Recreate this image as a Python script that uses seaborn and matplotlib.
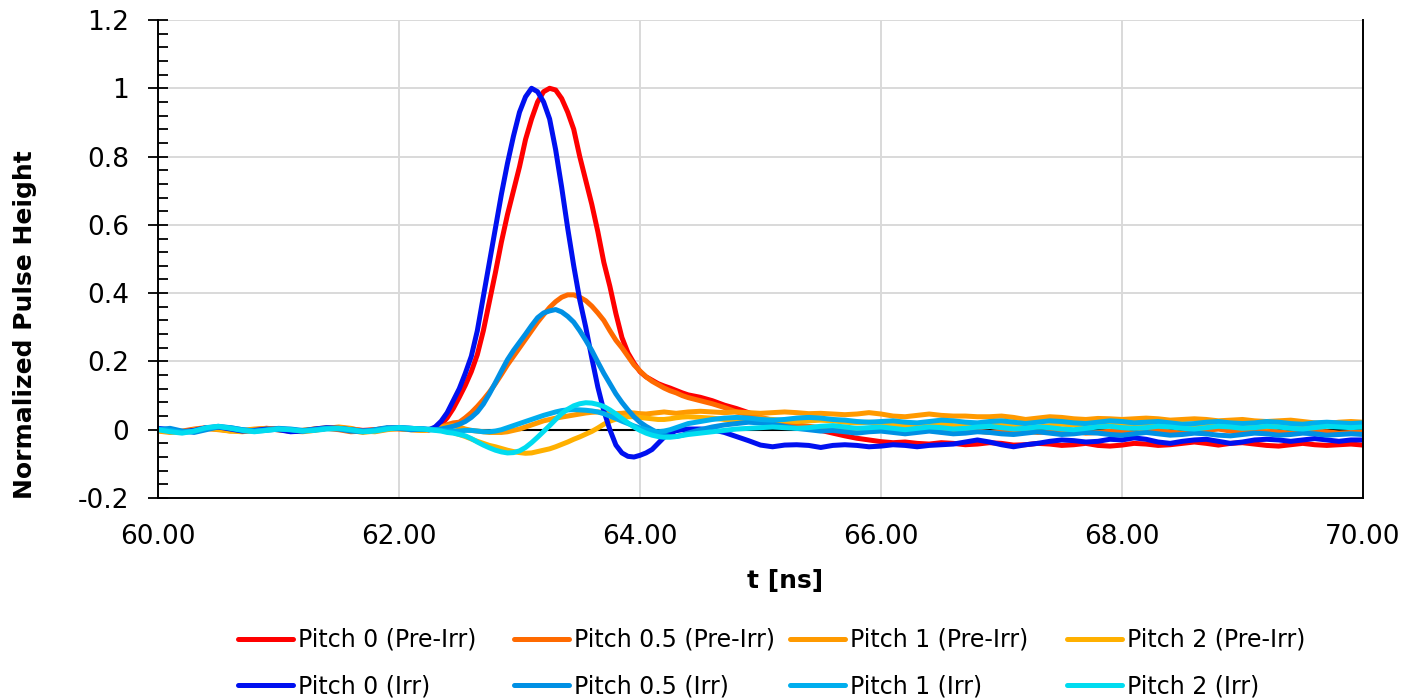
import numpy as np
import pandas as pd
import matplotlib
matplotlib.use("Agg")
import matplotlib.pyplot as plt
from matplotlib.lines import Line2D
from matplotlib.ticker import MultipleLocator, FuncFormatter
import seaborn as sns

# Sampling grid of the scope traces [ns]: coarse baseline, fine pulse window, coarse tail
t_ns = np.round(np.concatenate([
    np.arange(60.0, 62.2001, 0.1),
    np.arange(62.25, 64.4001, 0.05),
    np.arange(64.5, 70.0001, 0.1),
]), 2)

pitch0_pre = [
    0.0, -0.004, -0.006, -0.002, 0.004, 0.002, -0.002, -0.004, 0.0, 0.004, 0.002, -0.002,
    -0.004, 0.0, 0.004, 0.006, 0.002, -0.002, 0.0, 0.004, 0.006, 0.002, 0.0,
    0.0, 0.005, 0.015, 0.035, 0.062, 0.095, 0.13, 0.17, 0.22, 0.29, 0.375, 0.46,
    0.55, 0.63, 0.70, 0.77, 0.85, 0.91, 0.96, 0.99, 1.0, 0.995, 0.97, 0.93,
    0.88, 0.80, 0.73, 0.66, 0.58, 0.49, 0.42, 0.34, 0.27, 0.225, 0.195, 0.17,
    0.155, 0.145, 0.135, 0.128, 0.122, 0.115, 0.108, 0.102,
    0.095, 0.085, 0.072, 0.062, 0.05, 0.032, 0.025, 0.015, 0.01, 0.005, -0.002,
    -0.01, -0.018, -0.025, -0.03, -0.035, -0.038, -0.036, -0.04, -0.042, -0.038,
    -0.04, -0.044, -0.042, -0.038, -0.04, -0.045, -0.044, -0.04, -0.042, -0.046,
    -0.044, -0.04, -0.046, -0.048, -0.045, -0.04, -0.042, -0.046, -0.044, -0.04,
    -0.036, -0.04, -0.045, -0.04, -0.038, -0.042, -0.046, -0.048, -0.044, -0.04,
    -0.044, -0.046, -0.044, -0.042, -0.045,
]

pitch05_pre = [
    -0.002, -0.006, -0.004, 0.002, 0.006, 0.004, 0.0, -0.004, -0.002, 0.002, 0.0, -0.004,
    -0.002, 0.002, 0.004, 0.0, -0.006, -0.004, 0.0, 0.004, 0.002, 0.0, -0.002,
    0.0, 0.002, 0.008, 0.015, 0.02, 0.022, 0.035, 0.05, 0.068, 0.088, 0.11, 0.135,
    0.162, 0.19, 0.215, 0.24, 0.265, 0.29, 0.315, 0.337, 0.358, 0.375, 0.388, 0.395,
    0.395, 0.388, 0.378, 0.362, 0.342, 0.32, 0.29, 0.262, 0.24, 0.215, 0.19, 0.172,
    0.155, 0.142, 0.132, 0.122, 0.114, 0.108, 0.1, 0.094,
    0.085, 0.076, 0.065, 0.052, 0.044, 0.036, 0.028, 0.02, 0.014, 0.01, 0.006,
    0.004, 0.0, 0.002, -0.002, 0.0, -0.004, -0.002, 0.002, -0.002, -0.006,
    -0.004, 0.0, -0.004, -0.008, -0.004, 0.0, -0.004, -0.008, -0.006, -0.002,
    -0.004, -0.01, -0.008, -0.004, -0.006, -0.01, -0.006, -0.002, -0.006, -0.01,
    -0.008, -0.002, 0.002, -0.004, -0.008, -0.006, -0.002, -0.006, -0.01, -0.008,
    -0.004, -0.006, -0.01, -0.008, -0.006,
]

pitch1_pre = [
    -0.004, -0.008, -0.006, 0.0, 0.004, 0.0, -0.004, -0.002, 0.002, 0.004, 0.0, -0.004,
    -0.006, -0.002, 0.004, 0.008, 0.004, -0.004, -0.006, 0.0, 0.004, 0.002, 0.0,
    0.0, 0.004, 0.008, 0.01, 0.012, 0.008, 0.002, -0.002, -0.004, -0.006, -0.008, -0.008,
    -0.008, -0.006, -0.002, 0.002, 0.008, 0.014, 0.02, 0.026, 0.03, 0.034, 0.037, 0.04,
    0.043, 0.046, 0.049, 0.051, 0.052, 0.05, 0.048, 0.047, 0.048, 0.05, 0.049, 0.047,
    0.046, 0.048, 0.05, 0.052, 0.05, 0.048, 0.05, 0.052,
    0.054, 0.052, 0.05, 0.052, 0.05, 0.048, 0.05, 0.052, 0.05, 0.047, 0.048,
    0.046, 0.044, 0.046, 0.05, 0.046, 0.04, 0.038, 0.042, 0.046, 0.042,
    0.04, 0.04, 0.038, 0.038, 0.04, 0.036, 0.03, 0.034, 0.038, 0.036,
    0.032, 0.03, 0.033, 0.032, 0.03, 0.032, 0.034, 0.032, 0.028, 0.03,
    0.032, 0.03, 0.026, 0.028, 0.03, 0.026, 0.024, 0.026, 0.028, 0.024,
    0.02, 0.018, 0.022, 0.024, 0.022,
]

pitch2_pre = [
    -0.002, -0.006, -0.008, -0.002, 0.004, 0.002, -0.004, -0.006, -0.002, 0.002, 0.0, -0.004,
    -0.002, 0.002, 0.006, 0.004, -0.002, -0.008, -0.004, 0.002, 0.004, 0.0, -0.002,
    0.0, 0.002, 0.0, -0.004, -0.008, -0.014, -0.02, -0.027, -0.034, -0.04, -0.046, -0.05,
    -0.055, -0.06, -0.064, -0.067, -0.069, -0.068, -0.064, -0.06, -0.056, -0.05, -0.043, -0.036,
    -0.028, -0.021, -0.013, -0.005, 0.005, 0.016, 0.025, 0.031, 0.035, 0.038, 0.038, 0.036,
    0.034, 0.032, 0.03, 0.03, 0.032, 0.035, 0.037, 0.038,
    0.036, 0.034, 0.03, 0.028, 0.03, 0.032, 0.03, 0.026, 0.024, 0.026, 0.028,
    0.026, 0.022, 0.02, 0.022, 0.02, 0.016, 0.012, 0.014, 0.018, 0.016,
    0.012, 0.01, 0.012, 0.016, 0.018, 0.014, 0.01, 0.008, 0.012, 0.016,
    0.014, 0.012, 0.014, 0.018, 0.016, 0.012, 0.01, 0.012, 0.016, 0.018,
    0.014, 0.01, 0.012, 0.016, 0.014, 0.01, 0.008, 0.012, 0.014, 0.012,
    0.01, 0.012, 0.014, 0.016, 0.014,
]

pitch0_irr = [
    0.004, 0.0, -0.006, -0.002, 0.006, 0.008, 0.002, -0.004, -0.002, 0.002, 0.0, -0.006,
    -0.004, 0.002, 0.006, 0.004, 0.0, -0.004, -0.002, 0.004, 0.006, 0.004, 0.002,
    0.0, 0.008, 0.025, 0.05, 0.085, 0.12, 0.165, 0.215, 0.29, 0.39, 0.49, 0.59,
    0.69, 0.78, 0.86, 0.93, 0.975, 1.0, 0.99, 0.96, 0.91, 0.82, 0.71, 0.59,
    0.48, 0.38, 0.30, 0.21, 0.125, 0.055, 0.0, -0.045, -0.068, -0.078, -0.08, -0.075,
    -0.068, -0.058, -0.04, -0.022, -0.01, -0.003, 0.0, 0.002,
    0.002, 0.0, -0.008, -0.02, -0.032, -0.045, -0.05, -0.045, -0.044, -0.046, -0.052,
    -0.046, -0.044, -0.046, -0.05, -0.048, -0.044, -0.046, -0.05, -0.046, -0.044,
    -0.042, -0.036, -0.03, -0.036, -0.044, -0.05, -0.044, -0.04, -0.034, -0.03,
    -0.032, -0.036, -0.034, -0.028, -0.03, -0.024, -0.028, -0.036, -0.04, -0.034,
    -0.03, -0.028, -0.034, -0.04, -0.036, -0.03, -0.028, -0.03, -0.034, -0.03,
    -0.026, -0.03, -0.034, -0.03, -0.03,
]

pitch05_irr = [
    0.0, 0.004, -0.004, -0.008, 0.0, 0.008, 0.006, 0.0, -0.004, 0.0, 0.004, 0.002,
    -0.002, 0.0, 0.004, 0.002, -0.004, -0.006, 0.0, 0.006, 0.004, 0.0, 0.002,
    0.0, 0.0, 0.002, 0.006, 0.01, 0.016, 0.024, 0.036, 0.052, 0.075, 0.105, 0.138,
    0.172, 0.205, 0.232, 0.256, 0.28, 0.305, 0.328, 0.342, 0.348, 0.352, 0.345, 0.332,
    0.315, 0.29, 0.262, 0.232, 0.198, 0.165, 0.135, 0.105, 0.08, 0.058, 0.038, 0.022,
    0.01, 0.0, -0.01, -0.016, -0.02, -0.02, -0.016, -0.01,
    0.0, 0.008, 0.014, 0.018, 0.022, 0.02, 0.016, 0.01, 0.004, 0.0, -0.004,
    -0.002, -0.006, -0.01, -0.006, -0.004, -0.008, -0.012, -0.008, -0.004, -0.008,
    -0.012, -0.01, -0.006, -0.008, -0.012, -0.014, -0.01, -0.006, -0.01, -0.014,
    -0.012, -0.008, -0.01, -0.014, -0.016, -0.012, -0.008, -0.012, -0.016, -0.014,
    -0.01, -0.012, -0.016, -0.018, -0.014, -0.01, -0.012, -0.016, -0.014, -0.01,
    -0.012, -0.016, -0.014, -0.012, -0.014,
]

pitch1_irr = [
    0.002, -0.002, -0.008, -0.004, 0.004, 0.01, 0.006, 0.0, -0.004, -0.002, 0.002, 0.0,
    -0.004, 0.0, 0.004, 0.004, 0.0, -0.004, -0.002, 0.004, 0.006, 0.004, 0.002,
    0.002, 0.0, -0.002, -0.004, -0.004, -0.004, -0.002, -0.002, -0.004, -0.006, -0.006, -0.004,
    0.0, 0.006, 0.012, 0.018, 0.024, 0.03, 0.036, 0.042, 0.047, 0.052, 0.056, 0.058,
    0.059, 0.058, 0.057, 0.055, 0.052, 0.047, 0.04, 0.033, 0.025, 0.018, 0.011, 0.005,
    0.0, -0.004, -0.006, -0.004, 0.0, 0.006, 0.012, 0.018,
    0.024, 0.03, 0.034, 0.036, 0.034, 0.03, 0.028, 0.03, 0.034, 0.036, 0.034,
    0.03, 0.028, 0.024, 0.022, 0.024, 0.026, 0.022, 0.02, 0.024, 0.028,
    0.026, 0.022, 0.02, 0.024, 0.026, 0.022, 0.018, 0.022, 0.026, 0.024,
    0.02, 0.018, 0.022, 0.026, 0.024, 0.02, 0.022, 0.024, 0.02, 0.016,
    0.018, 0.022, 0.024, 0.02, 0.018, 0.02, 0.024, 0.022, 0.018, 0.016,
    0.02, 0.022, 0.02, 0.018, 0.02,
]

pitch2_irr = [
    0.0, -0.006, -0.01, -0.004, 0.006, 0.01, 0.004, -0.002, -0.006, -0.002, 0.002, 0.0,
    -0.004, -0.002, 0.002, 0.004, 0.0, -0.006, -0.004, 0.002, 0.006, 0.004, 0.002,
    0.0, -0.002, -0.004, -0.008, -0.01, -0.014, -0.018, -0.026, -0.036, -0.045, -0.053, -0.06,
    -0.065, -0.068, -0.067, -0.062, -0.052, -0.038, -0.022, -0.005, 0.012, 0.03, 0.047, 0.06,
    0.07, 0.076, 0.079, 0.078, 0.074, 0.068, 0.058, 0.046, 0.033, 0.02, 0.008, -0.002,
    -0.01, -0.016, -0.02, -0.022, -0.022, -0.02, -0.017, -0.014,
    -0.01, -0.006, -0.002, 0.002, 0.004, 0.006, 0.008, 0.006, 0.004, 0.006, 0.01,
    0.012, 0.008, 0.004, 0.006, 0.008, 0.004, 0.0, 0.004, 0.008, 0.006,
    0.002, 0.004, 0.008, 0.01, 0.006, 0.002, 0.004, 0.008, 0.006, 0.002,
    0.0, 0.004, 0.008, 0.01, 0.006, 0.004, 0.006, 0.01, 0.008, 0.004,
    0.002, 0.006, 0.01, 0.008, 0.004, 0.006, 0.01, 0.008, 0.004, 0.002,
    0.006, 0.01, 0.008, 0.006, 0.008,
]

series_labels = [
    "Pitch 0 (Pre-Irr)", "Pitch 0.5 (Pre-Irr)", "Pitch 1 (Pre-Irr)", "Pitch 2 (Pre-Irr)",
    "Pitch 0 (Irr)", "Pitch 0.5 (Irr)", "Pitch 1 (Irr)", "Pitch 2 (Irr)",
]
series_values = [
    pitch0_pre, pitch05_pre, pitch1_pre, pitch2_pre,
    pitch0_irr, pitch05_irr, pitch1_irr, pitch2_irr,
]
series_colors = [
    "#FF0000", "#FF6A00", "#FF9A00", "#FFB000",
    "#0010F0", "#0090E4", "#00AEEE", "#00DCF0",
]

for lab, vals in zip(series_labels, series_values):
    assert len(vals) == len(t_ns), (lab, len(vals), len(t_ns))

df = pd.concat(
    [pd.DataFrame({"t": t_ns, "h": vals, "series": lab})
     for lab, vals in zip(series_labels, series_values)],
    ignore_index=True,
)

sns.set_theme(style="white")
plt.rcParams["font.family"] = ["DejaVu Sans"]
plt.rcParams["axes.unicode_minus"] = False

W, H = 1404, 700
fig = plt.figure(figsize=(W / 100, H / 100), dpi=100)
ax_l, ax_r, ax_t, ax_b = 158, 1363, 20, 498
ax = fig.add_axes([ax_l / W, 1 - ax_b / H, (ax_r - ax_l) / W, (ax_b - ax_t) / H])

LW = 3.6
ax.axhline(0, color="black", lw=1.5, zorder=1.5)
sns.lineplot(
    data=df, x="t", y="h", hue="series", hue_order=series_labels,
    palette=series_colors, linewidth=LW, estimator=None, sort=False,
    legend=False, ax=ax, zorder=2,
)

ax.set_xlim(60, 70)
ax.set_ylim(-0.2, 1.2)
ax.set_xlabel("")
ax.set_ylabel("")

ax.xaxis.set_major_locator(MultipleLocator(2))
ax.xaxis.set_major_formatter(FuncFormatter(lambda v, p: f"{v:.2f}"))
ax.yaxis.set_major_locator(MultipleLocator(0.2))
ax.yaxis.set_minor_locator(MultipleLocator(0.04))
ax.yaxis.set_major_formatter(FuncFormatter(lambda v, p: f"{round(v, 1) + 0.0:g}"))

ax.grid(True, which="major", color="#D9D9D9", lw=1.4)
ax.set_axisbelow(True)

ax.tick_params(axis="x", which="both", bottom=True, length=0, labelsize=19,
               pad=19, labelcolor="black")
ax.tick_params(axis="y", which="major", left=True, direction="inout", length=14,
               width=1.3, color="black", labelsize=19, pad=14, labelcolor="black")
ax.tick_params(axis="y", which="minor", left=True, direction="in", length=7,
               width=1.3, color="black")

ax.spines["top"].set_visible(False)
for side in ("left", "bottom", "right"):
    ax.spines[side].set_color("black")
    ax.spines[side].set_linewidth(1.4)

fig.text(25 / W, 1 - 325 / H, "Normalized Pulse Height", rotation=90,
         ha="center", va="center", fontsize=18, fontweight="bold", color="black")
fig.text(785 / W, 1 - 581 / H, "t [ns]", ha="center", va="center",
         fontsize=18, fontweight="bold", color="black")

# Legend: four columns, Pre-Irr on the first row and Irr on the second
handles = [Line2D([], [], color=c, lw=LW) for c in series_colors]
col_x = [238, 514, 790, 1067]
for i, x0 in enumerate(col_x):
    fig.legend(
        handles=[handles[i], handles[i + 4]],
        labels=[series_labels[i], series_labels[i + 4]],
        loc="upper left", bbox_to_anchor=(x0 / W, 1 - 628 / H),
        frameon=False, fontsize=17, handlelength=2.33, handletextpad=0.2,
        labelspacing=0.96, borderpad=0, borderaxespad=0, labelcolor="black",
    )

fig.savefig("out.png", dpi=100)
